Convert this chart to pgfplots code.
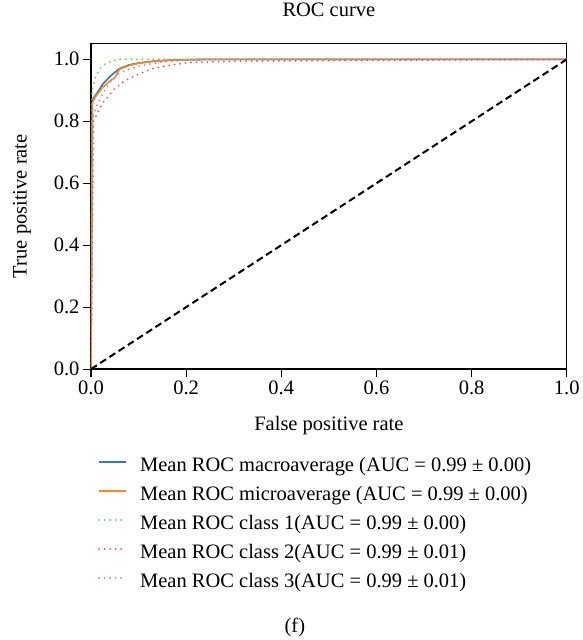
\documentclass[border=0pt]{standalone}
\usepackage{pgfplots}
\pgfplotsset{compat=1.18}
\usepackage{fontspec}
\setmainfont{Liberation Serif}
\definecolor{cblue}{HTML}{2F7DB8}
\definecolor{corange}{HTML}{FF8A1E}
\definecolor{cgreen}{HTML}{5ACC5A}
\definecolor{cred}{HTML}{EC4B5A}
\definecolor{cpurple}{HTML}{B47AD8}
\newcommand{\fs}{\fontsize{20.5}{24}\selectfont}
\begin{document}
\begin{tikzpicture}
\begin{axis}[
  at={(0,0)}, anchor=south west,
  scale only axis, width=476pt, height=326pt,
  xmin=0, xmax=1, ymin=0, ymax=1.052,
  xtick={0,0.2,...,1.0}, ytick={0,0.2,...,1.0},
  xticklabel style={/pgf/number format/.cd, fixed, fixed zerofill, precision=1},
  yticklabel style={/pgf/number format/.cd, fixed, fixed zerofill, precision=1},
  /pgf/number format/assume math mode=true,
  tick label style={font=\fs},
  label style={font=\fs},
  title style={font=\fs, at={(rel axis cs:0.5,1)}, anchor=center, yshift=27pt},
  xlabel style={at={(rel axis cs:0.5,0)}, anchor=center, yshift=-56pt},
  ylabel style={at={(rel axis cs:0,0.5)}, anchor=center, rotate=0, yshift=69pt},
  tick align=outside, tick pos=left, major tick length=8pt,
  axis line style={line width=1.2pt},
  every tick/.style={line width=1.1pt, black},
  title={ROC curve},
  xlabel={False positive rate},
  ylabel={True positive rate},
  legend style={draw=none, fill=none, at={(rel axis cs:0,0)}, anchor=north west,
    xshift=7pt, yshift=-88pt,
    font=\fs, row sep=10pt, inner sep=0pt,
    nodes={inner sep=0pt, text height=14pt, text depth=5pt}},
  legend cell align=left,
  legend image code/.code={\draw[#1] (0pt,5pt) -- (27pt,5pt); \path (0pt,0pt) (40pt,0pt);},
]
\addplot[cblue, line width=1.6pt] coordinates {(0,0) (0.003,0.87) (0.01,0.885) (0.025,0.92) (0.04,0.945) (0.06,0.97) (0.08,0.982) (0.1,0.988) (0.13,0.994) (0.17,0.998) (0.25,1.0) (1,1)};
\addlegendentry{Mean ROC macroaverage (AUC = 0.99 ± 0.00)}
\addplot[corange, line width=1.6pt] coordinates {(0,0) (0.003,0.86) (0.01,0.88) (0.025,0.91) (0.04,0.93) (0.05,0.94) (0.06,0.968) (0.08,0.98) (0.1,0.987) (0.13,0.993) (0.17,0.997) (0.25,1) (1,1)};
\addlegendentry{Mean ROC microaverage (AUC = 0.99 ± 0.00)}
\addplot[cgreen, line width=2pt, dash pattern=on 0.01pt off 5.5pt, line cap=round] coordinates {(0,0) (0.002,0.9) (0.01,0.945) (0.02,0.972) (0.03,0.985) (0.045,0.995) (0.06,1.0) (1,1)};
\addlegendentry{Mean ROC class 1(AUC = 0.99 ± 0.00)}
\addplot[cred, line width=2pt, dash pattern=on 0.01pt off 5.5pt, line cap=round] coordinates {(0,0) (0.005,0.8) (0.015,0.83) (0.025,0.86) (0.035,0.878) (0.05,0.905) (0.07,0.93) (0.1,0.952) (0.13,0.97) (0.17,0.982) (0.21,0.99) (0.3,0.994) (0.5,0.996) (1,1)};
\addlegendentry{Mean ROC class 2(AUC = 0.99 ± 0.01)}
\addplot[cpurple, line width=2pt, dash pattern=on 0.01pt off 5.5pt, line cap=round] coordinates {(0,0) (0.005,0.82) (0.012,0.85) (0.02,0.875) (0.033,0.91) (0.045,0.935) (0.06,0.955) (0.08,0.968) (0.1,0.978) (0.15,0.992) (0.2,0.997) (0.3,1) (1,1)};
\addlegendentry{Mean ROC class 3(AUC = 0.99 ± 0.01)}
\addplot[black, line width=2pt, dash pattern=on 7pt off 4pt, forget plot] coordinates {(0,0) (1,1)};
\end{axis}
\node[font=\fs] at (204pt,-258pt) {(f)};
\path[use as bounding box] (-91pt,-271pt) rectangle (492pt,369pt);
\end{tikzpicture}
\end{document}
